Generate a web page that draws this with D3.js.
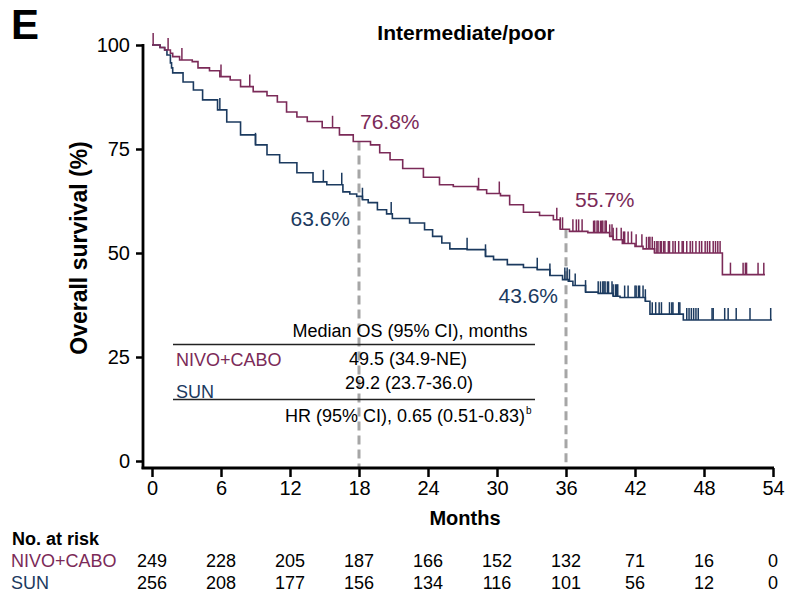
<!DOCTYPE html>
<html>
<head>
<meta charset="utf-8">
<script src="https://cdn.jsdelivr.net/npm/d3@7"></script>
<style>
  html, body { margin: 0; padding: 0; background: #fff; }
  svg { display: block; font-family: "Liberation Sans", Arial, Helvetica, sans-serif; }
</style>
</head>
<body>
<svg id="chart" width="800" height="597"></svg>
<script>
// ---------------- DATA ----------------
const xTicks = [0, 6, 12, 18, 24, 30, 36, 42, 48, 54];
const yTicks = [0, 25, 50, 75, 100];

// NIVO+CABO Kaplan-Meier steps (month, survival %)
const nivoTimes = [0, 0.7, 1.1, 1.6, 1.8, 2.4, 3.5, 4.0, 5.0, 5.9, 6.8, 7.7, 8.8, 10.0, 10.9, 11.7, 12.6, 13.5, 14.8, 16.3, 17.5, 19.0, 19.8, 20.7, 21.8, 23.6, 25.0, 26.2, 28.3, 29.1, 30.3, 31.1, 32.3, 33.7, 34.9, 35.5, 36.3, 37.9, 39.8, 40.1, 40.9, 42.0, 42.7, 43.7, 49.6];
const nivoSurv  = [100, 99.4, 98.8, 98.0, 97.2, 96.4, 96.0, 94.5, 93.8, 92.4, 91.6, 90.0, 88.8, 87.8, 86.3, 83.9, 82.7, 81.6, 80.1, 78.4, 76.8, 76.0, 74.1, 72.4, 70.3, 68.2, 66.4, 66.0, 65.2, 64.3, 63.8, 61.6, 59.8, 59.0, 58.0, 55.7, 55.2, 54.9, 54.0, 53.2, 52.3, 51.6, 51.0, 50.0, 44.8];
const nivoEnd = 53.3;
const nivoCensored = [0.1, 1.4, 2.6, 6.0, 8.5, 15.7, 28.4, 30.2, 35.2, 35.5, 35.7, 36.6, 36.9, 37.1, 37.4, 38.4, 38.5, 38.7, 38.8, 39.0, 39.1, 39.2, 39.4, 39.5, 39.8, 40.0, 40.1, 40.4, 40.8, 41.0, 41.1, 41.4, 41.7, 42.1, 42.6, 43.0, 43.2, 43.3, 43.5, 43.7, 43.9, 44.0, 44.2, 44.3, 44.5, 44.6, 44.9, 45.0, 45.3, 45.5, 45.8, 46.1, 46.2, 46.5, 46.8, 47.0, 47.3, 47.6, 47.8, 48.1, 48.3, 48.5, 48.8, 49.0, 49.2, 49.4, 50.3, 51.4, 51.6, 51.7, 52.7, 53.2];

// SUN Kaplan-Meier steps (month, survival %)
const sunTimes = [0, 0.7, 1.1, 1.3, 1.6, 1.7, 1.8, 2.7, 3.6, 4.4, 5.7, 6.5, 7.7, 9.0, 10.0, 11.1, 12.6, 14.0, 15.2, 16.6, 17.2, 17.8, 18.3, 18.8, 19.6, 20.4, 20.9, 22.4, 23.7, 24.4, 25.2, 25.9, 27.4, 29.0, 29.7, 30.9, 32.3, 33.5, 34.6, 35.7, 36.2, 36.6, 37.7, 38.8, 40.1, 40.7, 42.9, 43.3, 46.2];
const sunSurv  = [100, 99.4, 98.8, 97.6, 95.7, 94.5, 93.3, 91.1, 89.2, 86.8, 84.4, 81.5, 78.4, 76.0, 73.6, 71.7, 69.3, 67.1, 66.4, 64.7, 64.2, 63.6, 62.8, 62.1, 60.4, 59.4, 58.3, 57.2, 55.6, 54.0, 52.4, 51.0, 50.8, 49.2, 48.4, 47.2, 46.5, 46.0, 44.6, 43.6, 43.2, 42.2, 40.6, 40.3, 39.6, 39.3, 38.4, 35.3, 33.9];
const sunEnd = 53.9;
const sunCensored = [5.9, 9.0, 14.9, 16.5, 18.3, 20.8, 27.4, 29.0, 33.5, 34.6, 35.9, 36.1, 36.3, 36.8, 37.7, 38.8, 39.0, 39.2, 39.3, 39.4, 39.6, 39.7, 40.0, 40.1, 40.3, 40.4, 40.5, 41.1, 41.4, 42.0, 42.1, 42.3, 42.4, 42.7, 42.9, 43.5, 43.8, 44.1, 44.3, 45.0, 45.2, 45.3, 45.8, 45.9, 46.5, 46.7, 46.9, 47.1, 47.3, 47.5, 48.7, 48.8, 49.8, 50.1, 50.8, 52.0, 53.8];

// Landmark estimates
const landmarkMonths = [18, 36];
const nivoLandmark = ["76.8%", "55.7%"];
const sunLandmark = ["63.6%", "43.6%"];

// Median OS table
const armNames = ["NIVO+CABO", "SUN"];
const medianText = ["49.5 (34.9-NE)", "29.2 (23.7-36.0)"];
const tableHeader = "Median OS (95% CI), months";
const hrText = "HR (95% CI), 0.65 (0.51-0.83)";

// Numbers at risk
const riskMonths = [0, 6, 12, 18, 24, 30, 36, 42, 48, 54];
const nivoRisk = [249, 228, 205, 187, 166, 152, 132, 71, 16, 0];
const sunRisk  = [256, 208, 177, 156, 134, 116, 101, 56, 12, 0];

// ---------------- STYLE ----------------
const C_NIVO = "#7b2a58";
const C_SUN = "#1b3a5f";

const svg = d3.select("#chart");
const x = d3.scaleLinear().domain([0, 54]).range([152, 773]);
const y = d3.scaleLinear().domain([0, 100]).range([461, 45]);

// Panel letter & title
svg.append("text").attr("x", 11).attr("y", 39).attr("font-size", 42).attr("font-weight", "bold").text("E");
svg.append("text").attr("x", 466).attr("y", 40).attr("text-anchor", "middle")
  .attr("font-size", 21).attr("font-weight", "bold").text("Intermediate/poor");

// Dashed landmark lines (drawn beneath curves)
function survAt(times, surv, t) {
  let v = surv[0];
  for (let i = 0; i < times.length; i++) { if (times[i] <= t) v = surv[i]; else break; }
  return v;
}
svg.append("g").selectAll("line").data(landmarkMonths).join("line")
  .attr("x1", d => x(d)).attr("x2", d => x(d))
  .attr("y1", d => y(survAt(nivoTimes, nivoSurv, d)))
  .attr("y2", 468)
  .attr("stroke", "#a6a6a6").attr("stroke-width", 3).attr("stroke-dasharray", "9,5");

// Axes
const xAxis = d3.axisBottom(x).tickValues(xTicks).tickSize(9).tickPadding(4);
const gx = svg.append("g").attr("transform", "translate(0,468)").call(xAxis);
gx.select(".domain").remove();
gx.selectAll(".tick line").attr("stroke", "#000").attr("stroke-width", 2.5);
gx.selectAll(".tick text").attr("font-size", 20).attr("fill", "#000").attr("font-family", "Liberation Sans, Arial, sans-serif");

const yAxis = d3.axisLeft(y).tickValues(yTicks).tickSize(7).tickPadding(6);
const gy = svg.append("g").attr("transform", "translate(143,0)").call(yAxis);
gy.select(".domain").remove();
gy.selectAll(".tick line").attr("stroke", "#000").attr("stroke-width", 2.5);
gy.selectAll(".tick text").attr("font-size", 20).attr("fill", "#000").attr("font-family", "Liberation Sans, Arial, sans-serif");

// Axis lines
svg.append("line").attr("x1", 143).attr("x2", 143).attr("y1", y(100) - 1).attr("y2", 469)
  .attr("stroke", "#000").attr("stroke-width", 2.8);
svg.append("line").attr("x1", 141.6).attr("x2", x(54) + 1).attr("y1", 468).attr("y2", 468)
  .attr("stroke", "#000").attr("stroke-width", 2.8);

// Axis titles
svg.append("text").attr("transform", "translate(87,248) rotate(-90)").attr("text-anchor", "middle")
  .attr("font-size", 23).attr("font-weight", "bold").text("Overall survival (%)");
svg.append("text").attr("x", 465).attr("y", 525).attr("text-anchor", "middle")
  .attr("font-size", 20).attr("font-weight", "bold").text("Months");

// KM curves
function kmPoints(times, surv, end) {
  const pts = times.map((t, i) => [t, surv[i]]);
  pts.push([end, surv[surv.length - 1]]);
  return pts;
}
const line = d3.line().x(d => x(d[0])).y(d => y(d[1])).curve(d3.curveStepAfter);
function drawArm(times, surv, end, cens, color) {
  const g = svg.append("g");
  g.append("path").datum(kmPoints(times, surv, end)).attr("d", line)
    .attr("fill", "none").attr("stroke", color).attr("stroke-width", 1.6);
  g.selectAll("line").data(cens).join("line")
    .attr("x1", d => x(d)).attr("x2", d => x(d))
    .attr("y1", d => y(survAt(times, surv, d)))
    .attr("y2", d => y(survAt(times, surv, d)) - 12)
    .attr("stroke", color).attr("stroke-width", 1.5);
}
drawArm(sunTimes, sunSurv, sunEnd, sunCensored, C_SUN);
drawArm(nivoTimes, nivoSurv, nivoEnd, nivoCensored, C_NIVO);

// Landmark labels
svg.append("text").attr("x", x(18) + 1).attr("y", 129).attr("font-size", 21).attr("fill", C_NIVO).text(nivoLandmark[0]);
svg.append("text").attr("x", x(36) + 9).attr("y", 207).attr("font-size", 21).attr("fill", C_NIVO).text(nivoLandmark[1]);
svg.append("text").attr("x", x(18) - 9).attr("y", 226).attr("text-anchor", "end").attr("font-size", 21).attr("fill", C_SUN).text(sunLandmark[0]);
svg.append("text").attr("x", x(36) - 8).attr("y", 303).attr("text-anchor", "end").attr("font-size", 21).attr("fill", C_SUN).text(sunLandmark[1]);

// Median OS table
const tbl = svg.append("g").attr("font-size", 18);
tbl.append("text").attr("x", 410).attr("y", 337).attr("text-anchor", "middle").text(tableHeader);
tbl.append("line").attr("x1", 173).attr("x2", 535).attr("y1", 344.5).attr("y2", 344.5).attr("stroke", "#222").attr("stroke-width", 1.6);
tbl.append("text").attr("x", 176).attr("y", 366).attr("fill", C_NIVO).text(armNames[0]);
tbl.append("text").attr("x", 408).attr("y", 365).attr("text-anchor", "middle").text(medianText[0]);
tbl.append("text").attr("x", 176).attr("y", 398).attr("fill", C_SUN).text(armNames[1]);
tbl.append("text").attr("x", 409).attr("y", 389).attr("text-anchor", "middle").text(medianText[1]);
tbl.append("line").attr("x1", 173).attr("x2", 535).attr("y1", 399.5).attr("y2", 399.5).attr("stroke", "#222").attr("stroke-width", 1.6);
tbl.append("text").attr("x", 525).attr("y", 422).attr("text-anchor", "end").text(hrText);
tbl.append("text").attr("x", 526).attr("y", 414).attr("font-size", 10).text("b");

// Numbers at risk
svg.append("text").attr("x", 12).attr("y", 545).attr("font-size", 18).attr("font-weight", "bold").text("No. at risk");
svg.append("text").attr("x", 11).attr("y", 567).attr("font-size", 18).attr("fill", C_NIVO).text(armNames[0]);
svg.append("text").attr("x", 11).attr("y", 589).attr("font-size", 18).attr("fill", C_SUN).text(armNames[1]);
svg.append("g").selectAll("text").data(riskMonths).join("text")
  .attr("x", d => x(d)).attr("y", 567).attr("text-anchor", "middle").attr("font-size", 18)
  .text((d, i) => nivoRisk[i]);
svg.append("g").selectAll("text").data(riskMonths).join("text")
  .attr("x", d => x(d)).attr("y", 589).attr("text-anchor", "middle").attr("font-size", 18)
  .text((d, i) => sunRisk[i]);
</script>
</body>
</html>
